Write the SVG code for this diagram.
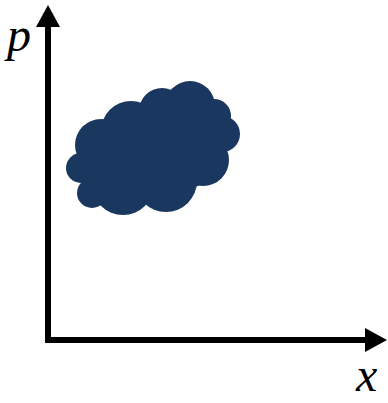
<svg xmlns="http://www.w3.org/2000/svg" width="388" height="403" viewBox="0 0 388 403">
<style>
.ax{stroke:#000;stroke-width:6;fill:none}
.cl{fill:#1a375f}
.lbl{font-family:"Liberation Serif","DejaVu Serif",serif;font-style:italic;font-size:48px;fill:#000}
</style>
<defs>
<marker id="ah" markerUnits="userSpaceOnUse" markerWidth="24" markerHeight="24" refX="2" refY="12" orient="auto">
<path d="M0,0 L22,12 L0,24 Z" fill="#000"/>
</marker>
</defs>
<g id="connectors">
<path class="ax" d="M48,343 L48,25" marker-end="url(#ah)"/>
<path class="ax" d="M45,340 L367,340" marker-end="url(#ah)"/>
</g>
<g id="cloud">
<polygon class="cl" points="80,160 100,130 160,100 215,110 225,150 200,185 165,200 110,200 85,185"/>
<circle class="cl" cx="101" cy="145" r="26"/>
<circle class="cl" cx="131" cy="131" r="30"/>
<circle class="cl" cx="162" cy="111" r="23"/>
<circle class="cl" cx="190" cy="106" r="25"/>
<circle class="cl" cx="214" cy="116" r="17"/>
<circle class="cl" cx="222" cy="134" r="18"/>
<circle class="cl" cx="203" cy="160" r="26"/>
<circle class="cl" cx="166" cy="181" r="31"/>
<circle class="cl" cx="123" cy="184" r="31"/>
<circle class="cl" cx="92" cy="193" r="15"/>
<circle class="cl" cx="81" cy="168" r="15"/>
</g>
<g id="labels">
<text class="lbl" x="7" y="51">p</text>
<text class="lbl" x="356" y="391">x</text>
</g>
</svg>
